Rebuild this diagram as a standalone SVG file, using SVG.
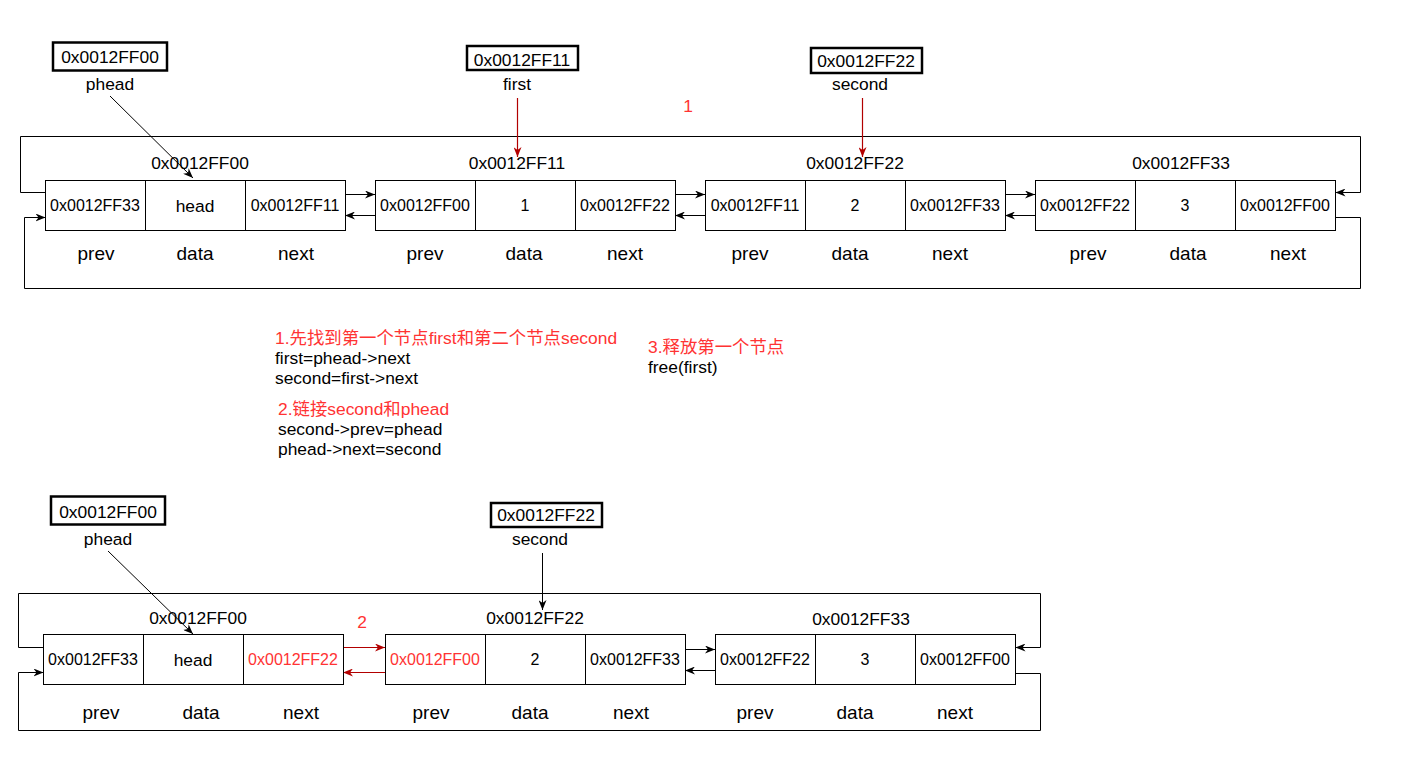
<svg xmlns="http://www.w3.org/2000/svg" width="1423" height="760" viewBox="0 0 1423 760">
<style>
text{font-family:"Liberation Sans",Arial,"Noto Sans CJK SC",sans-serif;fill:#000;text-anchor:middle}
.lbl{font-size:17.4px}
.addr{font-size:16px}
.fld{font-size:19px}
.red{fill:#FF3333}
.note{font-size:17.4px;text-anchor:start}
.cell{fill:#fff;stroke:#000;stroke-width:1}
.pbox{fill:#fff;stroke:#000;stroke-width:2.5}
.ln{fill:none;stroke:#000;stroke-width:1}
.rln{fill:none;stroke:#B20000;stroke-width:1.2}
</style>
<defs>
<marker id="ab" viewBox="0 0 10 8" markerWidth="10" markerHeight="8" refX="10" refY="4" orient="auto" markerUnits="userSpaceOnUse"><path d="M0,0 L10,4 L0,8 L3,4 Z" fill="#000"/></marker>
<marker id="ar" viewBox="0 0 10 8" markerWidth="10" markerHeight="8" refX="10" refY="4" orient="auto" markerUnits="userSpaceOnUse"><path d="M0,0 L10,4 L0,8 L3,4 Z" fill="#B20000"/></marker>
</defs>
<rect width="1423" height="760" fill="#fff"/>

<!-- ===== TOP LIST ===== -->
<g id="connectors-top">
<path class="ln" d="M45.5,192.5 H20.5 V136.5 H1360.5 V192.5 H1335.5" marker-end="url(#ab)"/>
<path class="ln" d="M1335.5,217.5 H1360.5 V288.5 H24.5 V217.5 H45.5" marker-end="url(#ab)"/>
<line class="ln" x1="345" y1="194.5" x2="375" y2="194.5" marker-end="url(#ab)"/>
<line class="ln" x1="375" y1="215.5" x2="345" y2="215.5" marker-end="url(#ab)"/>
<line class="ln" x1="675" y1="194.5" x2="705" y2="194.5" marker-end="url(#ab)"/>
<line class="ln" x1="705" y1="215.5" x2="675" y2="215.5" marker-end="url(#ab)"/>
<line class="ln" x1="1005" y1="194.5" x2="1035" y2="194.5" marker-end="url(#ab)"/>
<line class="ln" x1="1035" y1="215.5" x2="1005" y2="215.5" marker-end="url(#ab)"/>
<line class="ln" x1="110" y1="96" x2="193" y2="178" marker-end="url(#ab)"/>
<line class="rln" x1="517.5" y1="98" x2="517.5" y2="157" marker-end="url(#ar)"/>
<line class="rln" x1="862.5" y1="98" x2="862.5" y2="157" marker-end="url(#ar)"/>
</g>

<g id="ptr-phead-top">
<rect class="pbox" x="53" y="42.5" width="114" height="28"/>
<text class="lbl" x="110" y="63">0x0012FF00</text>
<text class="lbl" x="110" y="90">phead</text>
</g>
<g id="ptr-first">
<rect class="pbox" x="467" y="46" width="111" height="24"/>
<text class="lbl" x="522" y="66">0x0012FF11</text>
<text class="lbl" x="517" y="90">first</text>
</g>
<g id="ptr-second-top">
<rect class="pbox" x="811" y="48" width="111" height="25"/>
<text class="lbl" x="866" y="67">0x0012FF22</text>
<text class="lbl" x="860" y="90">second</text>
</g>
<text class="lbl red" x="688" y="112">1</text>

<g id="node-top-1">
<text class="lbl" x="200" y="169">0x0012FF00</text>
<rect class="cell" x="45.5" y="180.5" width="100" height="50"/>
<rect class="cell" x="145.5" y="180.5" width="100" height="50"/>
<rect class="cell" x="245.5" y="180.5" width="100" height="50"/>
<text class="addr" x="95" y="211">0x0012FF33</text>
<text class="lbl" x="195" y="211.5">head</text>
<text class="addr" x="295" y="211">0x0012FF11</text>
<text class="fld" x="96" y="260">prev</text>
<text class="fld" x="195" y="260">data</text>
<text class="fld" x="296" y="260">next</text>
</g>
<g id="node-top-2">
<text class="lbl" x="517" y="169">0x0012FF11</text>
<rect class="cell" x="375.5" y="180.5" width="100" height="50"/>
<rect class="cell" x="475.5" y="180.5" width="100" height="50"/>
<rect class="cell" x="575.5" y="180.5" width="100" height="50"/>
<text class="addr" x="425" y="211">0x0012FF00</text>
<text class="addr" x="525" y="211">1</text>
<text class="addr" x="625" y="211">0x0012FF22</text>
<text class="fld" x="425" y="260">prev</text>
<text class="fld" x="524" y="260">data</text>
<text class="fld" x="625" y="260">next</text>
</g>
<g id="node-top-3">
<text class="lbl" x="855" y="169">0x0012FF22</text>
<rect class="cell" x="705.5" y="180.5" width="100" height="50"/>
<rect class="cell" x="805.5" y="180.5" width="100" height="50"/>
<rect class="cell" x="905.5" y="180.5" width="100" height="50"/>
<text class="addr" x="755" y="211">0x0012FF11</text>
<text class="addr" x="855" y="211">2</text>
<text class="addr" x="955" y="211">0x0012FF33</text>
<text class="fld" x="750" y="260">prev</text>
<text class="fld" x="850" y="260">data</text>
<text class="fld" x="950" y="260">next</text>
</g>
<g id="node-top-4">
<text class="lbl" x="1181" y="169">0x0012FF33</text>
<rect class="cell" x="1035.5" y="180.5" width="100" height="50"/>
<rect class="cell" x="1135.5" y="180.5" width="100" height="50"/>
<rect class="cell" x="1235.5" y="180.5" width="100" height="50"/>
<text class="addr" x="1085" y="211">0x0012FF22</text>
<text class="addr" x="1185" y="211">3</text>
<text class="addr" x="1285" y="211">0x0012FF00</text>
<text class="fld" x="1088" y="260">prev</text>
<text class="fld" x="1188" y="260">data</text>
<text class="fld" x="1288" y="260">next</text>
</g>

<!-- ===== NOTES ===== -->
<g id="notes">
<text class="note red" x="275" y="344">1.先找到第一个节点first和第二个节点second</text>
<text class="note" x="275" y="364">first=phead-&gt;next</text>
<text class="note" x="275" y="384">second=first-&gt;next</text>
<text class="note red" x="278" y="415">2.链接second和phead</text>
<text class="note" x="278" y="435">second-&gt;prev=phead</text>
<text class="note" x="278" y="455">phead-&gt;next=second</text>
<text class="note red" x="648" y="353">3.释放第一个节点</text>
<text class="note" x="648" y="373">free(first)</text>
</g>

<!-- ===== BOTTOM LIST ===== -->
<g id="connectors-bottom">
<path class="ln" d="M43.5,647.5 H18.5 V593.5 H1040.5 V647.5 H1015.5" marker-end="url(#ab)"/>
<path class="ln" d="M1015.5,673.5 H1040.5 V730.5 H18.5 V672.5 H43.5" marker-end="url(#ab)"/>
<line class="rln" x1="343" y1="647.5" x2="385" y2="647.5" marker-end="url(#ar)"/>
<line class="rln" x1="385" y1="672.5" x2="343" y2="672.5" marker-end="url(#ar)"/>
<line class="ln" x1="685" y1="649.5" x2="715" y2="649.5" marker-end="url(#ab)"/>
<line class="ln" x1="715" y1="670.5" x2="685" y2="670.5" marker-end="url(#ab)"/>
<line class="ln" x1="108" y1="551" x2="193" y2="634" marker-end="url(#ab)"/>
<line class="ln" x1="542.5" y1="553" x2="542.5" y2="610" marker-end="url(#ab)"/>
</g>
<text class="lbl red" x="362" y="628">2</text>

<g id="ptr-phead-bottom">
<rect class="pbox" x="51" y="496.5" width="114" height="28"/>
<text class="lbl" x="108" y="518">0x0012FF00</text>
<text class="lbl" x="108" y="545">phead</text>
</g>
<g id="ptr-second-bottom">
<rect class="pbox" x="491" y="503" width="111" height="24"/>
<text class="lbl" x="546" y="521">0x0012FF22</text>
<text class="lbl" x="540" y="545">second</text>
</g>

<g id="node-bottom-1">
<text class="lbl" x="198" y="624">0x0012FF00</text>
<rect class="cell" x="43.5" y="634.5" width="100" height="50"/>
<rect class="cell" x="143.5" y="634.5" width="100" height="50"/>
<rect class="cell" x="243.5" y="634.5" width="100" height="50"/>
<text class="addr" x="93" y="665">0x0012FF33</text>
<text class="lbl" x="193" y="665.5">head</text>
<text class="addr red" x="293" y="665">0x0012FF22</text>
<text class="fld" x="101" y="719">prev</text>
<text class="fld" x="201" y="719">data</text>
<text class="fld" x="301" y="719">next</text>
</g>
<g id="node-bottom-2">
<text class="lbl" x="535" y="624">0x0012FF22</text>
<rect class="cell" x="385.5" y="634.5" width="100" height="50"/>
<rect class="cell" x="485.5" y="634.5" width="100" height="50"/>
<rect class="cell" x="585.5" y="634.5" width="100" height="50"/>
<text class="addr red" x="435" y="665">0x0012FF00</text>
<text class="addr" x="535" y="665">2</text>
<text class="addr" x="635" y="665">0x0012FF33</text>
<text class="fld" x="431" y="719">prev</text>
<text class="fld" x="530" y="719">data</text>
<text class="fld" x="631" y="719">next</text>
</g>
<g id="node-bottom-3">
<text class="lbl" x="861" y="625">0x0012FF33</text>
<rect class="cell" x="715.5" y="634.5" width="100" height="50"/>
<rect class="cell" x="815.5" y="634.5" width="100" height="50"/>
<rect class="cell" x="915.5" y="634.5" width="100" height="50"/>
<text class="addr" x="765" y="665">0x0012FF22</text>
<text class="addr" x="865" y="665">3</text>
<text class="addr" x="965" y="665">0x0012FF00</text>
<text class="fld" x="755" y="719">prev</text>
<text class="fld" x="855" y="719">data</text>
<text class="fld" x="955" y="719">next</text>
</g>
</svg>
